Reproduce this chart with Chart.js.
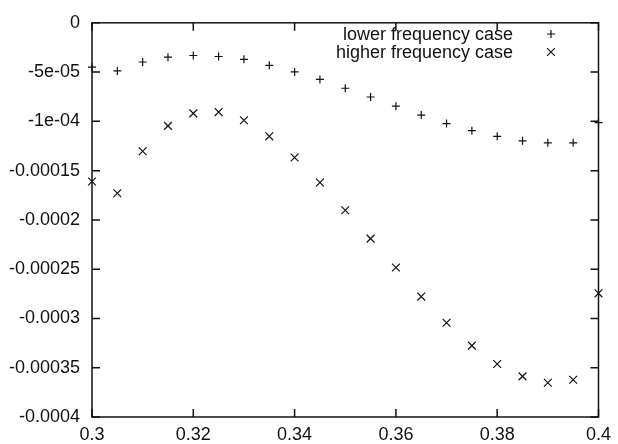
<!DOCTYPE html>
<html>
<head>
<meta charset="utf-8">
<script src="https://cdn.jsdelivr.net/npm/chart.js@4/dist/chart.umd.min.js"></script>
<style>
  html, body { margin: 0; padding: 0; background: #fff; }
  #wrap { width: 618px; height: 444px; position: relative; }
</style>
</head>
<body>
<div id="wrap"><canvas id="c" width="618" height="444"></canvas></div>
<script>
const xValues = [0.3, 0.305, 0.31, 0.315, 0.32, 0.325, 0.33, 0.335, 0.34, 0.345, 0.35,
                 0.355, 0.36, 0.365, 0.37, 0.375, 0.38, 0.385, 0.39, 0.395, 0.4];
const lowerFreq = [-4.5e-5, -4.88e-5, -3.98e-5, -3.49e-5, -3.32e-5, -3.42e-5, -3.71e-5, -4.31e-5, -4.98e-5, -5.75e-5, -6.64e-5,
                   -7.53e-5, -8.46e-5, -9.36e-5, -1.023e-4, -1.095e-4, -1.152e-4, -1.198e-4, -1.218e-4, -1.218e-4, -1.013e-4];
const higherFreq = [-1.61e-4, -1.73e-4, -1.304e-4, -1.046e-4, -0.919e-4, -0.906e-4, -0.989e-4, -1.152e-4, -1.367e-4, -1.62e-4, -1.902e-4,
                    -2.19e-4, -2.483e-4, -2.778e-4, -3.044e-4, -3.276e-4, -3.462e-4, -3.588e-4, -3.652e-4, -3.622e-4, -2.745e-4];
const seriesLabels = ['lower frequency case', 'higher frequency case'];
const xTickValues = [0.3, 0.32, 0.34, 0.36, 0.38, 0.4];
const xTickLabels = ['0.3', '0.32', '0.34', '0.36', '0.38', '0.4'];
const yTickValues = [0, -5e-5, -1e-4, -1.5e-4, -2e-4, -2.5e-4, -3e-4, -3.5e-4, -4e-4];
const yTickLabels = ['0', '-5e-05', '-1e-04', '-0.00015', '-0.0002', '-0.00025', '-0.0003', '-0.00035', '-0.0004'];

const FONT = '"Liberation Sans", Arial, Helvetica, sans-serif';
const INK = '#111';

const frame = {
  id: 'frame',
  afterDatasetsDraw(chart) {
    const { ctx, chartArea: a, scales } = chart;
    const tl = 8;
    ctx.save();
    ctx.strokeStyle = INK;
    ctx.lineWidth = 1.5;
    ctx.strokeRect(a.left, a.top, a.right - a.left, a.bottom - a.top);
    ctx.beginPath();
    scales.x.ticks.forEach(t => {
      const px = scales.x.getPixelForValue(t.value);
      ctx.moveTo(px, a.bottom); ctx.lineTo(px, a.bottom - tl);
      ctx.moveTo(px, a.top); ctx.lineTo(px, a.top + tl);
    });
    scales.y.ticks.forEach(t => {
      const py = scales.y.getPixelForValue(t.value);
      ctx.moveTo(a.left, py); ctx.lineTo(a.left + tl, py);
      ctx.moveTo(a.right, py); ctx.lineTo(a.right - tl, py);
    });
    ctx.stroke();

    // legend (text, then marker on its right)
    ctx.font = '18px ' + FONT;
    ctx.fillStyle = INK;
    ctx.textAlign = 'right';
    ctx.textBaseline = 'middle';
    const textRight = 513, markX = 551, rowY = [34, 52];
    chart.data.datasets.forEach((ds, i) => {
      ctx.fillText(ds.label, textRight, rowY[i] + 1);
      ctx.strokeStyle = INK;
      ctx.fillStyle = INK;
      ctx.lineWidth = ds.borderWidth;
      Chart.helpers.drawPoint(ctx, {
        pointStyle: ds.pointStyle, radius: ds.pointRadius, borderWidth: ds.borderWidth, rotation: 0
      }, markX, rowY[i]);
    });
    ctx.restore();
  }
};

new Chart(document.getElementById('c'), {
  type: 'scatter',
  data: {
    datasets: [
      {
        label: seriesLabels[0],
        data: xValues.map((x, i) => ({ x, y: lowerFreq[i] })),
        pointStyle: 'cross', pointRadius: 4, borderWidth: 1.2,
        borderColor: INK, backgroundColor: INK, clip: false
      },
      {
        label: seriesLabels[1],
        data: xValues.map((x, i) => ({ x, y: higherFreq[i] })),
        pointStyle: 'crossRot', pointRadius: 5.5, borderWidth: 1.2,
        borderColor: INK, backgroundColor: INK, clip: false
      }
    ]
  },
  options: {
    responsive: false,
    animation: false,
    layout: { padding: { top: 15, right: 19, bottom: 0, left: 0 } },
    plugins: { legend: { display: false }, tooltip: { enabled: false } },
    scales: {
      x: {
        type: 'linear', min: 0.3, max: 0.4,
        afterBuildTicks: s => { s.ticks = xTickValues.map(v => ({ value: v })); },
        afterFit: s => { s.height = 27; },
        grid: { display: false, drawTicks: false },
        border: { display: false },
        ticks: {
          padding: 7, color: INK, font: { family: FONT, size: 18 }, maxRotation: 0, autoSkip: false,
          callback: (v, i) => xTickLabels[i]
        }
      },
      y: {
        type: 'linear', min: -0.0004, max: 0,
        afterBuildTicks: s => { s.ticks = yTickValues.map(v => ({ value: v })); },
        afterFit: s => { s.width = 92; },
        grid: { display: false, drawTicks: false },
        border: { display: false },
        ticks: {
          padding: 12, color: INK, font: { family: FONT, size: 18 }, autoSkip: false,
          callback: (v, i) => yTickLabels[i]
        }
      }
    }
  },
  plugins: [frame]
});
</script>
</body>
</html>
